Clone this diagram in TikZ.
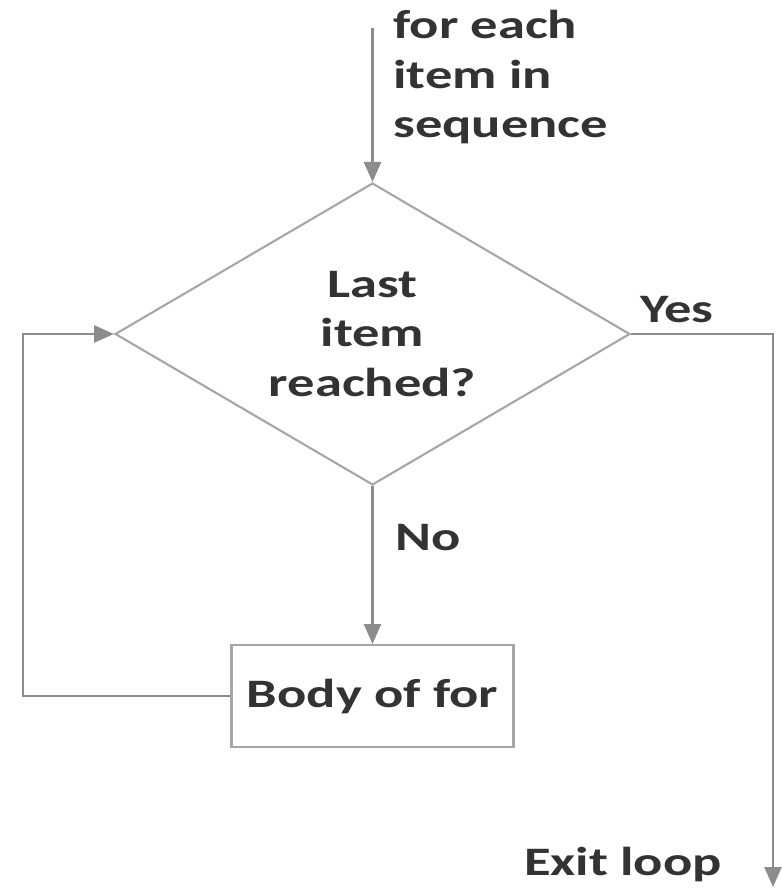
\documentclass[tikz,border=0pt]{standalone}
\usepackage{fontspec}
\setmainfont{Carlito}
\usepackage{graphicx}
\usetikzlibrary{positioning,shapes.geometric,arrows.meta}
\definecolor{linegray}{HTML}{8C8C8C}
\definecolor{framegray}{HTML}{A6A6A6}
\definecolor{textgray}{HTML}{333333}
\newcommand{\wide}[1]{\scalebox{1.35}[1]{#1}}

\begin{document}
\begin{tikzpicture}[x=0.02cm, y=-0.02cm,
    every node/.style={font=\bfseries\fontsize{23}{28}\selectfont, text=textgray},
    lbl/.style={inner sep=0pt},
    decision/.style={diamond, aspect=1.7, draw=framegray, line width=1.2pt, minimum width=10.3cm, minimum height=6.04cm, inner sep=0pt, align=center},
    block/.style={rectangle, draw=framegray, line width=1.2pt, minimum width=5.64cm, minimum height=2.04cm},
    flow/.style={draw=linegray, line width=1.4pt, -{Triangle[length=0.4cm, width=0.34cm]}}]

    \useasboundingbox (0,0) rectangle (781,889);

    \node[decision] (cond) at (372.5,334) {\wide{Last}\\\wide{item}\\\wide{reached?}};
    \node[block, below=3.16cm of cond] (body) {\wide{Body of for}};

    \coordinate (start) at (372.5,28);
    \coordinate (exit) at (773,887);
    \coordinate (back) at (23,694);

    \node[lbl, anchor=west, align=left] (each) at (393,77) {\wide{for each}\\\wide{item in}\\\wide{sequence}};
    \node[lbl, anchor=base west] (yes) at (640,322) {\wide{Yes}};
    \node[lbl, anchor=base west] (no) at (395,550) {\wide{No}};
    \node[lbl, anchor=base east] (out) at (722,875) {\wide{Exit loop}};

    \draw[flow] (start) -- (cond.north);
    \draw[flow] (cond.south) -- (body.north);
    \draw[flow] (cond.east) -| (exit);
    \draw[flow] (body.west) -| (back) |- (cond.west);
\end{tikzpicture}
\end{document}
